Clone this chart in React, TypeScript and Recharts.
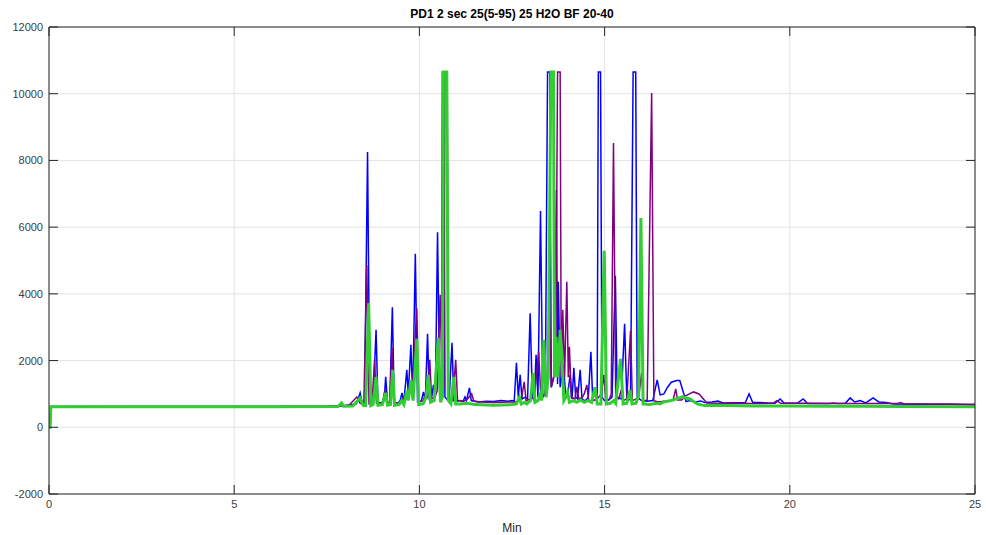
import React from 'react';
import { LineChart, Line, XAxis, YAxis, CartesianGrid } from 'recharts';

// retention time (min), detector response
const blueTrace: [number, number][] = [
  [0, 0], [0.03, 0], [0.05, 620], [2, 625], [4, 620], [6, 625], [7.5, 630], [8.0, 650], [8.3, 700],
  [8.4, 1030], [8.45, 750], [8.52, 720], [8.6, 8250], [8.66, 720], [8.75, 760], [8.83, 2920], [8.88, 750],
  [8.98, 730], [9.05, 850], [9.09, 1510], [9.14, 740], [9.2, 760], [9.27, 3600], [9.32, 750], [9.42, 720],
  [9.48, 800], [9.53, 1030], [9.58, 760], [9.66, 1720], [9.7, 1000], [9.77, 2470], [9.82, 900], [9.89, 5200],
  [9.95, 760], [10.05, 780], [10.11, 1060], [10.16, 800], [10.22, 2800], [10.27, 850], [10.33, 900],
  [10.38, 1270], [10.43, 900], [10.49, 5850], [10.55, 800], [10.6, 1000], [10.62, 10650], [10.66, 10650],
  [10.69, 900], [10.8, 780], [10.88, 2530], [10.93, 800], [11.0, 780], [11.1, 800], [11.18, 780],
  [11.23, 910], [11.27, 800], [11.35, 1180], [11.4, 800], [11.6, 760], [11.8, 780], [12.0, 770],
  [12.2, 800], [12.4, 780], [12.5, 800], [12.56, 780], [12.62, 1930], [12.67, 900], [12.72, 1570],
  [12.77, 850], [12.85, 900], [12.92, 850], [12.99, 3420], [13.05, 900], [13.1, 800], [13.15, 2170],
  [13.2, 900], [13.27, 6480], [13.33, 900], [13.4, 1000], [13.46, 10650], [13.52, 10650], [13.56, 1200],
  [13.63, 1500], [13.7, 7110], [13.73, 1300], [13.75, 4360], [13.8, 1200], [13.89, 1870], [13.95, 900],
  [14.0, 950], [14.07, 1570], [14.12, 850], [14.17, 1780], [14.22, 900], [14.27, 850], [14.34, 1720],
  [14.39, 850], [14.45, 800], [14.5, 820], [14.56, 900], [14.63, 2260], [14.68, 800], [14.75, 820],
  [14.8, 900], [14.83, 10650], [14.89, 10650], [14.93, 900], [15.0, 800], [15.1, 820], [15.2, 900],
  [15.29, 4540], [15.34, 900], [15.45, 850], [15.54, 3100], [15.6, 850], [15.7, 820], [15.77, 10650],
  [15.84, 10650], [15.88, 900], [16.0, 800], [16.15, 780], [16.3, 800], [16.42, 1420], [16.5, 970],
  [16.6, 1000], [16.7, 1200], [16.8, 1350], [16.95, 1400], [17.03, 1400], [17.1, 1150], [17.2, 770],
  [17.3, 800], [17.45, 760], [17.6, 790], [17.7, 740], [17.9, 760], [18.06, 790], [18.2, 730],
  [18.8, 740], [18.9, 1000], [19.0, 740], [19.2, 740], [19.6, 720], [19.74, 850], [19.85, 720],
  [20.2, 720], [20.36, 850], [20.48, 710], [21.0, 710], [21.5, 720], [21.63, 880], [21.75, 760],
  [21.9, 800], [22.05, 730], [22.25, 880], [22.4, 760], [22.6, 740], [22.8, 700], [23.5, 690],
  [24.3, 690], [25, 670],
];

const purpleTrace: [number, number][] = [
  [0, 0], [0.03, 0], [0.05, 615], [3, 620], [6, 620], [7.8, 640], [8.1, 660], [8.31, 910], [8.4, 720],
  [8.5, 700], [8.58, 4865], [8.64, 700], [8.72, 720], [8.79, 2020], [8.84, 720], [9.0, 720], [9.07, 1120],
  [9.12, 720], [9.2, 740], [9.26, 2400], [9.31, 740], [9.45, 720], [9.55, 850], [9.6, 760], [9.7, 1000],
  [9.75, 1270], [9.8, 900], [9.93, 3570], [9.98, 760], [10.1, 800], [10.17, 1000], [10.22, 900],
  [10.28, 2020], [10.33, 850], [10.42, 900], [10.48, 1100], [10.56, 3970], [10.62, 900], [10.66, 1200],
  [10.69, 10650], [10.75, 10650], [10.78, 900], [10.9, 800], [10.98, 2020], [11.03, 800], [11.2, 780],
  [11.3, 850], [11.41, 1000], [11.47, 780], [11.7, 760], [12.0, 740], [12.4, 760], [12.6, 760], [12.7, 800],
  [12.76, 900], [12.83, 1360], [12.88, 800], [13.0, 850], [13.1, 900], [13.22, 2260], [13.28, 900],
  [13.38, 1000], [13.45, 1400], [13.51, 3910], [13.56, 1200], [13.62, 1500], [13.68, 2000], [13.73, 10650],
  [13.8, 10650], [13.83, 1500], [13.87, 3520], [13.92, 1500], [13.98, 4360], [14.02, 1500], [14.05, 2410],
  [14.1, 900], [14.2, 850], [14.25, 1210], [14.3, 850], [14.4, 900], [14.45, 1000], [14.52, 1270],
  [14.57, 800], [14.7, 800], [14.8, 850], [14.91, 1000], [14.98, 1570], [15.03, 800], [15.12, 820],
  [15.18, 1000], [15.24, 8520], [15.3, 900], [15.38, 850], [15.45, 1120], [15.5, 800], [15.6, 850],
  [15.7, 2890], [15.75, 800], [15.85, 850], [15.92, 900], [16.0, 1630], [16.05, 800], [16.15, 800],
  [16.27, 10020], [16.33, 800], [16.45, 760], [16.6, 780], [16.75, 780], [16.85, 820], [16.92, 1150],
  [16.97, 820], [17.08, 820], [17.2, 950], [17.4, 1060], [17.55, 1000], [17.76, 730], [18.0, 720],
  [18.5, 720], [19.0, 710], [19.55, 720], [19.65, 800], [19.75, 720], [20.5, 720], [21.05, 710],
  [21.17, 730], [21.3, 710], [22.0, 710], [22.9, 710], [22.98, 740], [23.1, 700], [23.5, 700], [25, 690],
];

const greenTrace: [number, number][] = [
  [0, 0], [0.03, 0], [0.05, 615], [2, 612], [4, 615], [6, 612], [7.8, 620], [7.9, 730], [7.95, 630],
  [8.2, 640], [8.4, 880], [8.48, 660], [8.55, 650], [8.63, 3725], [8.69, 650], [8.75, 680], [8.83, 1510],
  [8.88, 660], [9.0, 680], [9.09, 1030], [9.14, 660], [9.22, 680], [9.28, 1720], [9.33, 660], [9.45, 680],
  [9.52, 800], [9.58, 680], [9.66, 1100], [9.7, 800], [9.77, 1420], [9.83, 800], [9.93, 2650], [9.98, 680],
  [10.1, 700], [10.18, 900], [10.24, 1570], [10.3, 750], [10.4, 800], [10.51, 2680], [10.57, 750],
  [10.62, 900], [10.65, 10650], [10.74, 10650], [10.78, 800], [10.85, 700], [10.93, 1510], [10.98, 700],
  [11.1, 700], [11.3, 720], [11.5, 680], [12.0, 660], [12.5, 680], [12.62, 700], [12.7, 900], [12.75, 700],
  [12.85, 750], [12.9, 700], [13.0, 800], [13.07, 1630], [13.12, 750], [13.2, 800], [13.27, 1000],
  [13.3, 800], [13.36, 2620], [13.42, 900], [13.48, 1500], [13.55, 10650], [13.62, 10650], [13.65, 1500],
  [13.69, 2710], [13.74, 1500], [13.8, 2920], [13.85, 1930], [13.9, 800], [13.95, 900], [14.0, 1060],
  [14.05, 750], [14.15, 800], [14.25, 750], [14.35, 820], [14.45, 750], [14.55, 800], [14.65, 750],
  [14.74, 1200], [14.8, 700], [14.9, 700], [14.99, 5290], [15.05, 700], [15.15, 720], [15.25, 800],
  [15.3, 720], [15.43, 2050], [15.5, 700], [15.6, 720], [15.69, 1120], [15.74, 700], [15.85, 720],
  [15.92, 1000], [15.98, 6270], [16.04, 700], [16.2, 680], [16.4, 720], [16.5, 700], [16.6, 760],
  [16.8, 800], [17.1, 910], [17.3, 850], [17.5, 700], [17.7, 650], [18, 660], [19, 640], [20, 640],
  [21, 630], [22, 630], [23, 620], [25, 615],
];

const xTicks = [0, 5, 10, 15, 20, 25];
const yTicks = [-2000, 0, 2000, 4000, 6000, 8000, 10000, 12000];

const toRows = (pts: [number, number][]) => pts.map(([t, v]) => ({ t, v }));

const axisColor = '#262626';
const labelColor = '#404040';
const fontFamily = '"Liberation Sans", Arial, sans-serif';
const TICK_LEN = 9;

// plot box edges, from the chart margins below
const PLOT_TOP = 27;
const PLOT_RIGHT = 975;

// ticks point into the box on all four sides, labels sit outside
const BottomTick = ({ x, y, payload }: any) => (
  <g>
    <line x1={x} y1={y} x2={x} y2={y - TICK_LEN} stroke={axisColor} />
    <line x1={x} y1={PLOT_TOP} x2={x} y2={PLOT_TOP + TICK_LEN} stroke={axisColor} />
    <text x={x} y={y + 14} textAnchor="middle" fontSize={11} fill={labelColor} fontFamily={fontFamily}>
      {payload.value}
    </text>
  </g>
);

const LeftTick = ({ x, y, payload }: any) => (
  <g>
    <line x1={x} y1={y} x2={x + TICK_LEN} y2={y} stroke={axisColor} />
    <line x1={PLOT_RIGHT} y1={y} x2={PLOT_RIGHT - TICK_LEN} y2={y} stroke={axisColor} />
    <text x={x - 6} y={y + 4} textAnchor="end" fontSize={11} fill={labelColor} fontFamily={fontFamily}>
      {payload.value}
    </text>
  </g>
);

export default function App() {
  return (
    <div style={{ position: 'absolute', left: 0, top: 0, width: 986, height: 535, background: '#fff' }}>
      <div
        style={{
          position: 'absolute',
          left: 49,
          width: 926,
          top: 7,
          textAlign: 'center',
          fontFamily,
          fontWeight: 'bold',
          fontSize: 12,
          color: '#000',
        }}
      >
        PD1 2 sec 25(5-95) 25 H2O BF 20-40
      </div>
      <LineChart width={986} height={535} margin={{ top: 26, right: 10, bottom: 3, left: 4 }}>
        <CartesianGrid stroke="#e3e3e3" strokeWidth={1} />
        <XAxis
          dataKey="t"
          type="number"
          domain={[0, 25]}
          ticks={xTicks}
          allowDataOverflow
          height={38}
          tickLine={false}
          tickSize={0}
          tickMargin={0}
          tick={<BottomTick />}
          stroke={axisColor}
          label={{ value: 'Min', position: 'insideBottom', offset: 0, fontSize: 12, fill: '#262626', fontFamily }}
        />
        <XAxis
          xAxisId="top"
          orientation="top"
          dataKey="t"
          type="number"
          domain={[0, 25]}
          ticks={xTicks}
          height={1}
          tickLine={false}
          tick={false}
          stroke={axisColor}
        />
        <YAxis
          type="number"
          domain={[-2000, 12000]}
          ticks={yTicks}
          allowDataOverflow
          width={45}
          tickLine={false}
          tickSize={0}
          tickMargin={0}
          tick={<LeftTick />}
          stroke={axisColor}
        />
        <YAxis
          yAxisId="right"
          orientation="right"
          type="number"
          domain={[-2000, 12000]}
          ticks={yTicks}
          width={1}
          tickLine={false}
          tick={false}
          stroke={axisColor}
        />
        <Line
          data={toRows(blueTrace)}
          dataKey="v"
          type="linear"
          stroke="#0000ff"
          strokeWidth={1.5}
          dot={false}
          isAnimationActive={false}
        />
        <Line
          data={toRows(purpleTrace)}
          dataKey="v"
          type="linear"
          stroke="#800080"
          strokeWidth={1.5}
          dot={false}
          isAnimationActive={false}
        />
        <Line
          data={toRows(greenTrace)}
          dataKey="v"
          type="linear"
          stroke="#32cd32"
          strokeWidth={3}
          dot={false}
          isAnimationActive={false}
        />
      </LineChart>
    </div>
  );
}
